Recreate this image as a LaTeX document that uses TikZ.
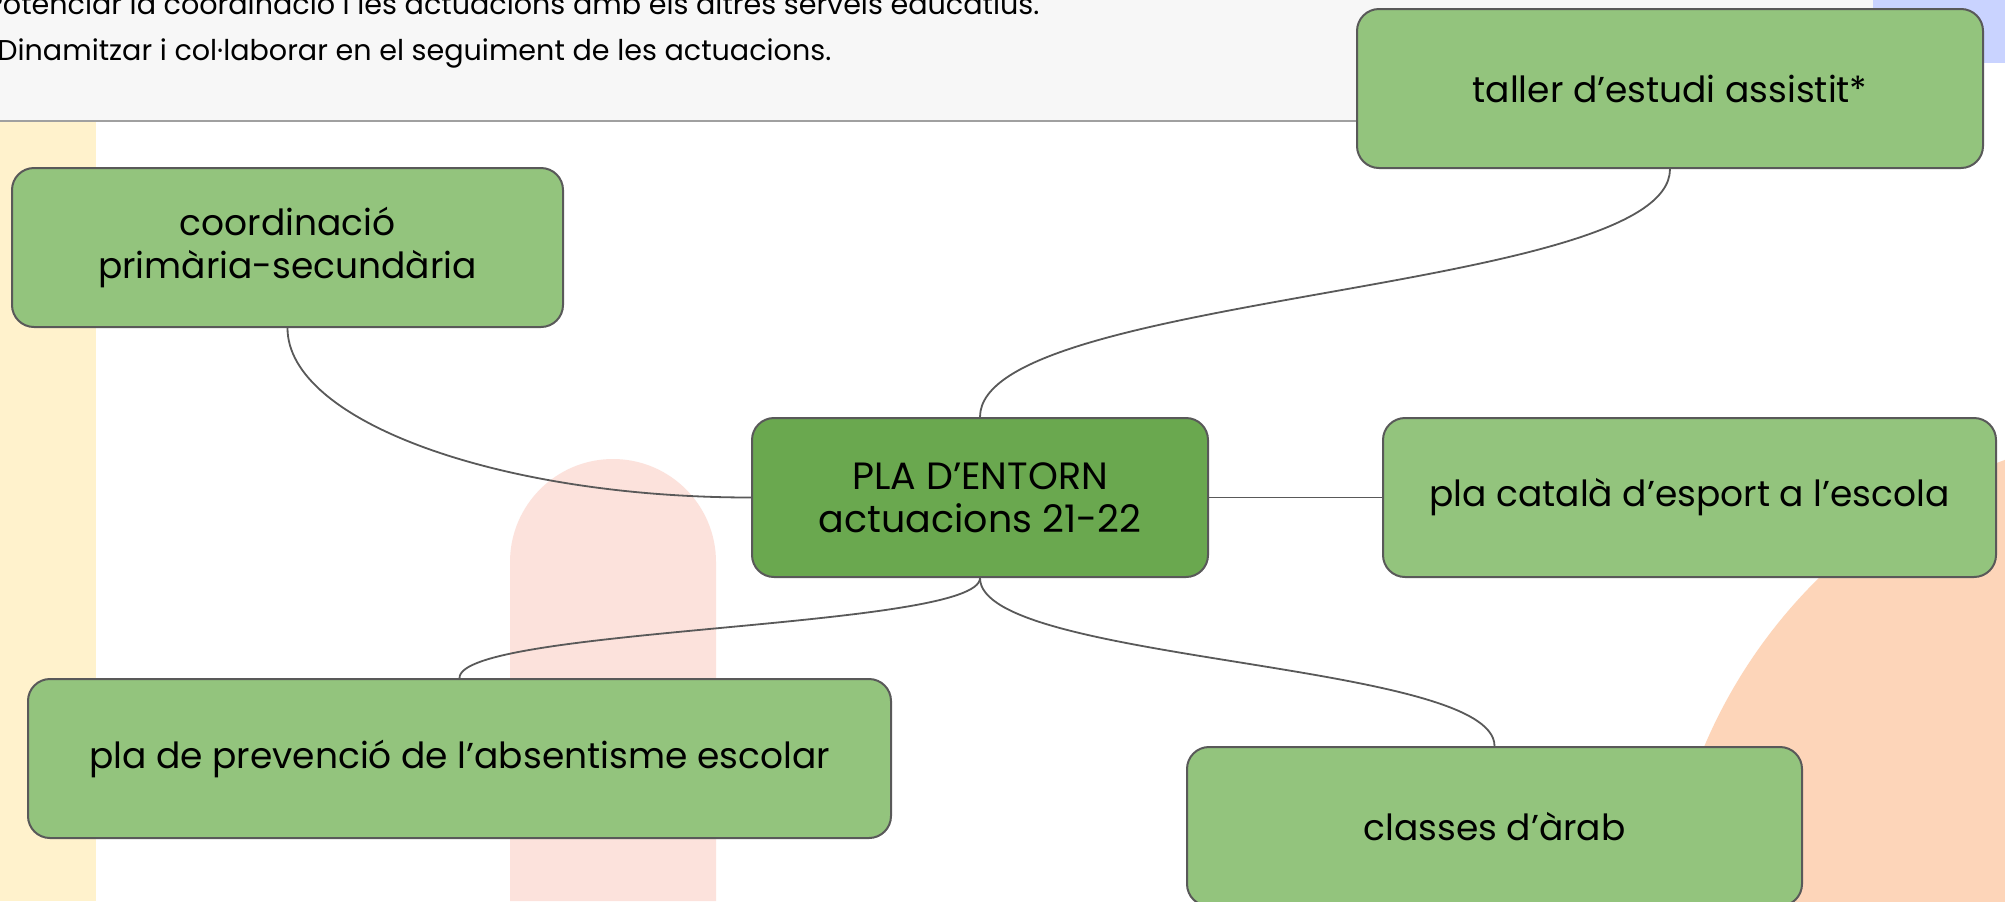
\documentclass[tikz,border=0pt]{standalone}
\usepackage{fontspec}
\setmainfont{Poppins}
\usetikzlibrary{calc}
\pgfdeclarelayer{bglayer}
\pgfdeclarelayer{connlayer}
\pgfsetlayers{bglayer,connlayer,main}
\definecolor{nodegreen}{RGB}{147,196,125}
\definecolor{centergreen}{RGB}{106,168,79}
\definecolor{edgegrey}{RGB}{89,89,89}
\definecolor{headgrey}{RGB}{247,247,247}
\definecolor{headline}{RGB}{160,160,160}
\definecolor{bandyellow}{RGB}{255,242,204}
\definecolor{archpink}{RGB}{252,226,220}
\definecolor{peach}{RGB}{253,213,185}
\definecolor{topblue}{RGB}{201,211,255}
\tikzset{
  box/.style={draw=edgegrey, line width=1pt, rounded corners=11pt, fill=nodegreen,
    align=center, inner sep=0pt, minimum height=79.5pt,
    font=\fontsize{18}{21.5}\selectfont},
  centerbox/.style={box, fill=centergreen, font=\fontsize{19}{21.5}\selectfont},
  conn/.style={draw=edgegrey, line width=0.9pt},
  headtext/.style={anchor=base west, inner sep=0pt, font=\fontsize{14.3}{18}\selectfont}
}
\begin{document}
\begin{tikzpicture}[x=0.5pt,y=-0.5pt]
\useasboundingbox (0,0) rectangle (2005,901);
\clip (0,0) rectangle (2005,901);
% background shapes
\begin{pgfonlayer}{bglayer}
\fill[white] (0,0) rectangle (2005,901);
\fill[bandyellow] (0,121) rectangle (96,901);
\fill[archpink] (510,901) -- (510,562) arc[start angle=180, end angle=360, radius=103] -- (716,901) -- cycle;
\fill[peach] (2185,950) circle[radius=522];
\fill[headgrey] (0,0) rectangle (1873,121);
\draw[headline, line width=1pt] (0,120.5) -- (1873,120.5);
\fill[topblue] (1873,0) rectangle (2005,63);
\end{pgfonlayer}
\node[headtext] (h1) at (-14,14) {Potenciar la coordinació i les actuacions amb els altres serveis educatius.};
\node[headtext] (h2) at (-3,60) {Dinamitzar i col·laborar en el seguiment de les actuacions.};
% nodes
\node[box, minimum width=313pt] (taller) at (1670,88.5) {taller d’estudi assistit*};
\node[box, minimum width=275.5pt] (coord) at (287.5,247.5) {coordinació\\primària-secundària};
\node[centerbox, minimum width=228pt] (central) at (980,497.5) {PLA D’ENTORN\\actuacions 21-22};
\node[box, minimum width=306.5pt] (esport) at (1689.5,497.5) {pla català d’esport a l’escola};
\node[box, minimum width=431.5pt] (prev) at (459.5,758.5) {pla de prevenció de l’absentisme escolar};
\node[box, minimum width=307.5pt] (arab) at (1494.5,826.5) {classes d’àrab};
% connectors
\begin{pgfonlayer}{connlayer}
\draw[conn] (taller.south) .. controls ($(taller.south)+(0,125)$) and ($(central.north)+(0,-125)$) .. (central.north);
\draw[conn] (coord.south) .. controls ($(coord.south)+(0,93)$) and ($(central.west)+(-252,0)$) .. (central.west);
\draw[conn] (central.east) -- (esport.west);
\draw[conn] (central.south) .. controls ($(central.south)+(0,51)$) and ($(prev.north)+(0,-51)$) .. (prev.north);
\draw[conn] (central.south) .. controls ($(central.south)+(0,85)$) and ($(arab.north)+(0,-85)$) .. (arab.north);
\end{pgfonlayer}
\end{tikzpicture}
\end{document}
